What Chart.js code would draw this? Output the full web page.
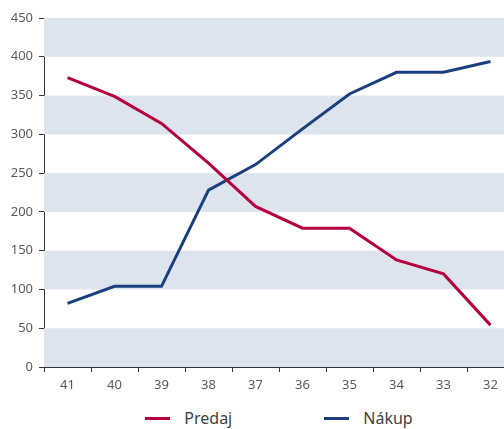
<!DOCTYPE html>
<html>
<head>
<meta charset="utf-8">
<script src="https://cdn.jsdelivr.net/npm/chart.js@4.4.1/dist/chart.umd.min.js"></script>
<style>
  html, body { margin: 0; padding: 0; background: #fff; }
  body { width: 504px; height: 429px; overflow: hidden; position: relative; }
  #wrap { position: absolute; left: 0; top: 0; width: 558px; height: 400px; }
  #legend {
    position: absolute; left: 0; top: 407px; width: 558px;
    display: flex; justify-content: center; align-items: center; gap: 92px;
    font-family: "Noto Sans", "Open Sans", sans-serif; font-size: 16px; color: #3f3f3f;
  }
  .item { display: flex; align-items: center; }
  .swatch { width: 25px; height: 3px; margin-right: 14px; }
</style>
</head>
<body>
<div id="wrap"><canvas id="chart"></canvas></div>
<div id="legend"></div>
<script>
// Week numbers, shown in descending order
const categories = ["41", "40", "39", "38", "37", "36", "35", "34", "33", "32"];
const predaj = [373, 349, 314, 263, 207, 179, 179, 138, 120, 54];
const nakup  = [82, 104, 104, 228, 261, 307, 352, 380, 380, 394];
const yTicks = [0, 50, 100, 150, 200, 250, 300, 350, 400, 450];

const seriesNames = ["Predaj", "Nákup"];
const seriesColors = ["#b5003f", "#1b3f7e"];
const bandColor = "#dee4ee";

// Alternating horizontal bands behind the lines
const bandsPlugin = {
  id: "bands",
  beforeDatasetsDraw(chart) {
    const { ctx, chartArea, scales } = chart;
    const y = scales.y;
    ctx.save();
    ctx.fillStyle = bandColor;
    for (let i = 0; i < yTicks.length - 1; i++) {
      if (i % 2 !== 0) continue;
      const top = y.getPixelForValue(yTicks[i + 1]);
      const bottom = y.getPixelForValue(yTicks[i]);
      ctx.fillRect(chartArea.left, top, chartArea.right - chartArea.left, bottom - top);
    }
    ctx.restore();
  }
};

const font = { family: "'Noto Sans', 'Open Sans', sans-serif", size: 13 };

new Chart(document.getElementById("chart"), {
  type: "line",
  data: {
    labels: categories,
    datasets: [
      { label: seriesNames[0], data: predaj, borderColor: seriesColors[0], backgroundColor: seriesColors[0] },
      { label: seriesNames[1], data: nakup, borderColor: seriesColors[1], backgroundColor: seriesColors[1] }
    ]
  },
  options: {
    responsive: true,
    maintainAspectRatio: false,
    animation: false,
    layout: { padding: { top: 18, left: 0, right: 44, bottom: 0 } },
    elements: {
      line: { borderWidth: 3, tension: 0, borderCapStyle: "butt", borderJoinStyle: "miter" },
      point: { radius: 0, hoverRadius: 0 }
    },
    plugins: { legend: { display: false }, tooltip: { enabled: false } },
    scales: {
      x: {
        offset: true,
        border: { display: true, color: "#333", width: 1 },
        grid: { offset: true, drawOnChartArea: false, drawTicks: true, tickLength: 5, tickColor: "#333" },
        ticks: { color: "#5a5a5a", font, padding: 5, maxRotation: 0 },
        afterFit(scale) { scale.height = 33; }
      },
      y: {
        min: 0,
        max: 450,
        border: { display: true, color: "#333", width: 1 },
        grid: {
          drawTicks: true,
          tickLength: 5,
          tickColor: "#333",
          color: (c) => (c.tick && c.tick.value === 450 ? "#b3b3b3" : "rgba(0,0,0,0)")
        },
        ticks: { stepSize: 50, color: "#5a5a5a", font, padding: 6 },
        afterFit(scale) { scale.width = 44; }
      }
    }
  },
  plugins: [bandsPlugin]
});

// Legend below the plot
const legend = document.getElementById("legend");
seriesNames.forEach((name, i) => {
  const item = document.createElement("div");
  item.className = "item";
  const sw = document.createElement("span");
  sw.className = "swatch";
  sw.style.background = seriesColors[i];
  const txt = document.createElement("span");
  txt.textContent = name;
  item.appendChild(sw);
  item.appendChild(txt);
  legend.appendChild(item);
});
</script>
</body>
</html>
